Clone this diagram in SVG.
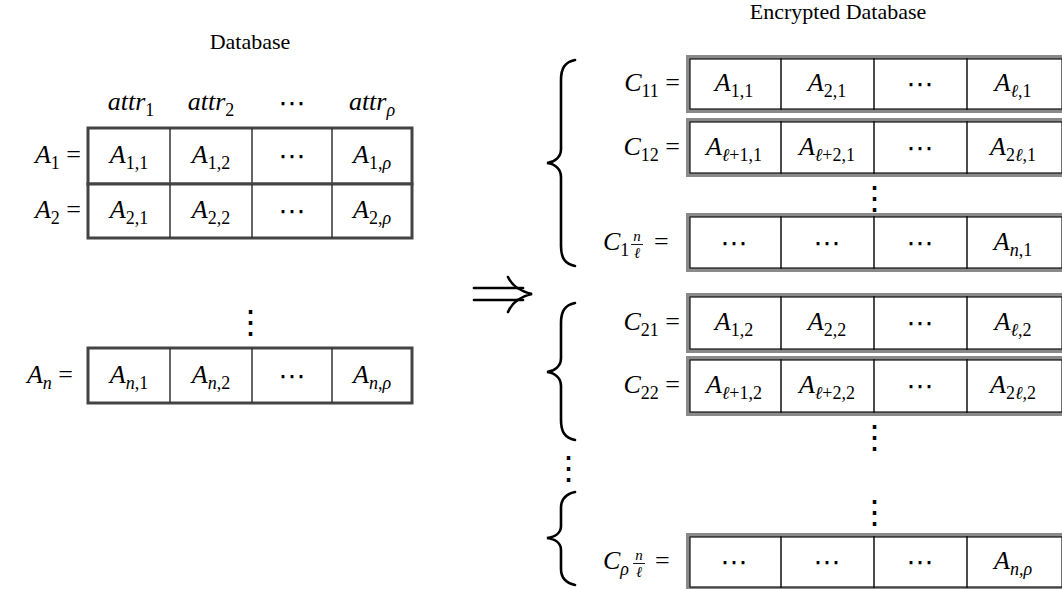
<svg xmlns="http://www.w3.org/2000/svg" width="1062" height="589" viewBox="0 0 1062 589">
<style>
.t{font-family:"Liberation Serif","Times New Roman",serif;font-size:22px;fill:#000;text-anchor:middle}
.m{font-family:"Liberation Serif","Times New Roman",serif;font-size:26px;font-style:italic;fill:#000}
.c{text-anchor:middle}
.e{text-anchor:end}
.sb{font-size:18px;font-style:normal}
.fr{font-family:"Liberation Serif",serif;font-size:15px;font-style:italic;text-anchor:middle;fill:#000}
.u{font-style:normal}
.i{font-style:italic}
.d{font-family:"DejaVu Sans",sans-serif;font-size:27px;fill:#000;text-anchor:middle}
.v{font-family:"DejaVu Serif",serif;font-size:33px;fill:#000;text-anchor:middle}
.lo{fill:#fff;stroke:#444;stroke-width:3}
.ld{stroke:#333;stroke-width:1.5}
.ro{fill:#fff;stroke:#8a8a8a;stroke-width:4}
.ri{fill:none;stroke:#111;stroke-width:1.2}
.rd{stroke:#111;stroke-width:1.5}
.br{fill:none;stroke:#000;stroke-width:2.6;stroke-linecap:round}
.ar{fill:none;stroke:#000;stroke-width:2.6;stroke-linecap:round}
</style>

<g id="titles">
<text class="t" x="250" y="49">Database</text>
<text class="t" x="838" y="19">Encrypted Database</text>
</g>

<g id="attr-header">
<text class="m c" x="131" y="110">attr<tspan class="sb" dy="6">1</tspan></text>
<text class="m c" x="211" y="110">attr<tspan class="sb" dy="6">2</tspan></text>
<text class="d" x="292" y="112">⋯</text>
<text class="m c" x="372" y="110">attr<tspan class="sb i" dy="6">ρ</tspan></text>
</g>

<g id="row-A1">
<rect class="lo" x="88" y="128" width="324" height="56"/>
<line class="ld" x1="170" y1="128" x2="170" y2="184"/>
<line class="ld" x1="252" y1="128" x2="252" y2="184"/>
<line class="ld" x1="332" y1="128" x2="332" y2="184"/>
<text class="m e" x="81" y="163">A<tspan class="sb" dy="6">1</tspan><tspan class="u" dy="-6"> =</tspan></text>
<text class="m c" x="129" y="163">A<tspan class="sb" dy="6">1,1</tspan></text>
<text class="m c" x="211" y="163">A<tspan class="sb" dy="6">1,2</tspan></text>
<text class="d" x="292" y="165">⋯</text>
<text class="m c" x="372" y="163">A<tspan class="sb" dy="6">1,<tspan class="i">ρ</tspan></tspan></text>
</g>

<g id="row-A2">
<rect class="lo" x="88" y="184" width="324" height="54"/>
<line class="ld" x1="170" y1="184" x2="170" y2="238"/>
<line class="ld" x1="252" y1="184" x2="252" y2="238"/>
<line class="ld" x1="332" y1="184" x2="332" y2="238"/>
<text class="m e" x="81" y="218">A<tspan class="sb" dy="6">2</tspan><tspan class="u" dy="-6"> =</tspan></text>
<text class="m c" x="129" y="218">A<tspan class="sb" dy="6">2,1</tspan></text>
<text class="m c" x="211" y="218">A<tspan class="sb" dy="6">2,2</tspan></text>
<text class="d" x="292" y="220">⋯</text>
<text class="m c" x="372" y="218">A<tspan class="sb" dy="6">2,<tspan class="i">ρ</tspan></tspan></text>
</g>

<text class="v" x="250" y="334">⋮</text>

<g id="row-An">
<rect class="lo" x="88" y="348" width="324" height="55"/>
<line class="ld" x1="170" y1="348" x2="170" y2="403"/>
<line class="ld" x1="252" y1="348" x2="252" y2="403"/>
<line class="ld" x1="332" y1="348" x2="332" y2="403"/>
<text class="m e" x="73" y="383">A<tspan class="sb i" dy="6">n</tspan><tspan class="u" dy="-6"> =</tspan></text>
<text class="m c" x="129" y="383">A<tspan class="sb" dy="6"><tspan class="i">n</tspan>,1</tspan></text>
<text class="m c" x="211" y="383">A<tspan class="sb" dy="6"><tspan class="i">n</tspan>,2</tspan></text>
<text class="d" x="292" y="385">⋯</text>
<text class="m c" x="372" y="383">A<tspan class="sb i" dy="6">n,ρ</tspan></text>
</g>

<g id="connectors">
<line class="ar" x1="474" y1="288" x2="523" y2="288"/>
<line class="ar" x1="474" y1="300" x2="523" y2="300"/>
<path class="ar" d="M508,277 Q514,290 532,294 Q514,298 508,312"/>
</g>

<g id="braces">
<path class="br" d="M575,60 C565,62 561,68 561,80 L561,149 C561,157 555,162 547,163 C555,164 561,169 561,177 L561,246 C561,258 565,264 575,266"/>
<path class="br" d="M575,303 C565,305 561,311 561,323 L561,358 C561,366 555,371 547,372 C555,373 561,378 561,386 L561,420 C561,432 565,438 575,440"/>
<path class="br" d="M575,492 C566,494 561,499 561,508 L561,526 C561,533 555,537 547,538 C555,539 561,543 561,550 L561,569 C561,578 566,583 575,585"/>
<text class="v" x="568" y="480">⋮</text>
</g>

<g id="row-C11">
<rect class="ro" x="688" y="57" width="376" height="54"/>
<rect class="ri" x="690" y="59" width="372" height="50"/>
<line class="rd" x1="781" y1="58" x2="781" y2="110"/>
<line class="rd" x1="874" y1="58" x2="874" y2="110"/>
<line class="rd" x1="967" y1="58" x2="967" y2="110"/>
<text class="m e" x="680" y="91">C<tspan class="sb" dy="6">11</tspan><tspan class="u" dy="-6"> =</tspan></text>
<text class="m c" x="734" y="91">A<tspan class="sb" dy="6">1,1</tspan></text>
<text class="m c" x="827" y="91">A<tspan class="sb" dy="6">2,1</tspan></text>
<text class="d" x="920" y="93">⋯</text>
<text class="m c" x="1013" y="91">A<tspan class="sb" dy="6"><tspan class="i">ℓ</tspan>,1</tspan></text>
</g>

<g id="row-C12">
<rect class="ro" x="688" y="120" width="376" height="55"/>
<rect class="ri" x="690" y="122" width="372" height="51"/>
<line class="rd" x1="781" y1="121" x2="781" y2="174"/>
<line class="rd" x1="874" y1="121" x2="874" y2="174"/>
<line class="rd" x1="967" y1="121" x2="967" y2="174"/>
<text class="m e" x="680" y="155">C<tspan class="sb" dy="6">12</tspan><tspan class="u" dy="-6"> =</tspan></text>
<text class="m c" x="734" y="155">A<tspan class="sb" dy="6"><tspan class="i">ℓ</tspan>+1,1</tspan></text>
<text class="m c" x="827" y="155">A<tspan class="sb" dy="6"><tspan class="i">ℓ</tspan>+2,1</tspan></text>
<text class="d" x="920" y="157">⋯</text>
<text class="m c" x="1013" y="155">A<tspan class="sb" dy="6">2<tspan class="i">ℓ</tspan>,1</tspan></text>
</g>

<text class="v" x="874" y="210">⋮</text>

<g id="row-C1n">
<rect class="ro" x="688" y="215" width="376" height="55"/>
<rect class="ri" x="690" y="217" width="372" height="51"/>
<line class="rd" x1="781" y1="216" x2="781" y2="269"/>
<line class="rd" x1="874" y1="216" x2="874" y2="269"/>
<line class="rd" x1="967" y1="216" x2="967" y2="269"/>
<text class="m" x="603" y="250">C<tspan class="sb" dy="6">1</tspan></text>
<text class="fr" x="637" y="241">n</text>
<line x1="631" y1="244.5" x2="643" y2="244.5" stroke="#000" stroke-width="0.9"/>
<text class="fr" x="637" y="258">ℓ</text>
<text class="m u" x="654" y="250">=</text>
<text class="d" x="734" y="252">⋯</text>
<text class="d" x="827" y="252">⋯</text>
<text class="d" x="920" y="252">⋯</text>
<text class="m c" x="1013" y="250">A<tspan class="sb" dy="6"><tspan class="i">n</tspan>,1</tspan></text>
</g>

<g id="row-C21">
<rect class="ro" x="688" y="295" width="376" height="56"/>
<rect class="ri" x="690" y="297" width="372" height="52"/>
<line class="rd" x1="781" y1="296" x2="781" y2="350"/>
<line class="rd" x1="874" y1="296" x2="874" y2="350"/>
<line class="rd" x1="967" y1="296" x2="967" y2="350"/>
<text class="m e" x="680" y="330">C<tspan class="sb" dy="6">21</tspan><tspan class="u" dy="-6"> =</tspan></text>
<text class="m c" x="734" y="330">A<tspan class="sb" dy="6">1,2</tspan></text>
<text class="m c" x="827" y="330">A<tspan class="sb" dy="6">2,2</tspan></text>
<text class="d" x="920" y="332">⋯</text>
<text class="m c" x="1013" y="330">A<tspan class="sb" dy="6"><tspan class="i">ℓ</tspan>,2</tspan></text>
</g>

<g id="row-C22">
<rect class="ro" x="688" y="358" width="376" height="56"/>
<rect class="ri" x="690" y="360" width="372" height="52"/>
<line class="rd" x1="781" y1="359" x2="781" y2="413"/>
<line class="rd" x1="874" y1="359" x2="874" y2="413"/>
<line class="rd" x1="967" y1="359" x2="967" y2="413"/>
<text class="m e" x="680" y="393">C<tspan class="sb" dy="6">22</tspan><tspan class="u" dy="-6"> =</tspan></text>
<text class="m c" x="734" y="393">A<tspan class="sb" dy="6"><tspan class="i">ℓ</tspan>+1,2</tspan></text>
<text class="m c" x="827" y="393">A<tspan class="sb" dy="6"><tspan class="i">ℓ</tspan>+2,2</tspan></text>
<text class="d" x="920" y="395">⋯</text>
<text class="m c" x="1013" y="393">A<tspan class="sb" dy="6">2<tspan class="i">ℓ</tspan>,2</tspan></text>
</g>

<text class="v" x="874" y="449">⋮</text>
<text class="v" x="874" y="524">⋮</text>

<g id="row-Crho">
<rect class="ro" x="688" y="535" width="376" height="54"/>
<rect class="ri" x="690" y="537" width="372" height="50"/>
<line class="rd" x1="781" y1="536" x2="781" y2="588"/>
<line class="rd" x1="874" y1="536" x2="874" y2="588"/>
<line class="rd" x1="967" y1="536" x2="967" y2="588"/>
<text class="m" x="603" y="569">C<tspan class="sb i" dy="6">ρ</tspan></text>
<text class="fr" x="639" y="560">n</text>
<line x1="633" y1="563.5" x2="645" y2="563.5" stroke="#000" stroke-width="0.9"/>
<text class="fr" x="639" y="577">ℓ</text>
<text class="m u" x="655" y="569">=</text>
<text class="d" x="734" y="571">⋯</text>
<text class="d" x="827" y="571">⋯</text>
<text class="d" x="920" y="571">⋯</text>
<text class="m c" x="1013" y="569">A<tspan class="sb i" dy="6">n,ρ</tspan></text>
</g>
</svg>
